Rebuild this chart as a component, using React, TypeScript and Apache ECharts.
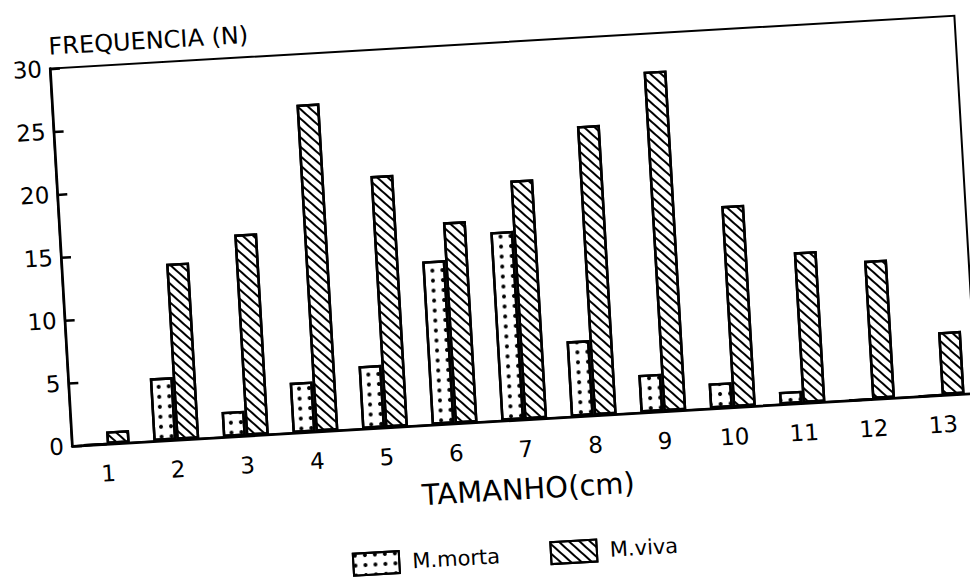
import React, { useEffect, useRef } from 'react';
import * as echarts from 'echarts';

const categories = ['1', '2', '3', '4', '5', '6', '7', '8', '9', '10', '11', '12', '13'];
const mortaValues = [0, 5, 2, 4, 5, 13, 15, 6, 3, 2, 1, 0, 0];
const vivaValues = [1, 14, 16, 26, 20, 16, 19, 23, 27, 16, 12, 11, 5];
const seriesNames = ['M.morta', 'M.viva'];
const yAxisName = 'FREQUENCIA (N)';
const xAxisName = 'TAMANHO(cm)';

const FONT = 'DejaVu Sans';

export default function App() {
  const ref = useRef<HTMLDivElement>(null);
  useEffect(() => {
    if (!ref.current) return;
    const chart = echarts.init(ref.current, null, { renderer: 'svg' });
    chart.setOption({
      animation: false,
      backgroundColor: '#fff',
      textStyle: { fontFamily: FONT, color: '#000' },
      grid: {
        left: 72,
        top: 68,
        width: 906,
        height: 378,
        show: true,
        borderColor: '#000',
        borderWidth: 2,
        backgroundColor: 'transparent',
      },
      legend: {
        data: seriesNames,
        left: 340,
        top: 564,
        icon: 'rect',
        itemWidth: 46,
        itemHeight: 22,
        itemGap: 50,
        itemStyle: { borderColor: '#000', borderWidth: 2 },
        textStyle: { fontSize: 21, color: '#000', fontFamily: FONT, padding: [0, 0, 0, 8] },
      },
      xAxis: {
        type: 'category',
        data: categories,
        name: xAxisName,
        nameLocation: 'middle',
        nameGap: 55,
        nameTextStyle: { fontSize: 29, color: '#000', fontFamily: FONT },
        axisLine: { lineStyle: { color: '#000', width: 2.5 } },
        axisTick: { show: false },
        axisLabel: { fontSize: 23, color: '#000', margin: 18, fontFamily: FONT },
      },
      yAxis: {
        type: 'value',
        min: 0,
        max: 30,
        interval: 5,
        name: yAxisName,
        nameLocation: 'end',
        nameGap: 10,
        nameTextStyle: { fontSize: 24, color: '#000', align: 'left', verticalAlign: 'bottom', fontFamily: FONT },
        axisLine: { show: true, lineStyle: { color: '#000', width: 2.5 } },
        axisTick: { show: true, inside: true, length: 10, lineStyle: { color: '#000', width: 2.5 } },
        axisLabel: { fontSize: 23, color: '#000', margin: 8, fontFamily: FONT },
        splitLine: { show: false },
      },
      series: [
        {
          name: seriesNames[0],
          type: 'bar',
          data: mortaValues,
          barWidth: 23,
          barGap: '0%',
          itemStyle: {
            color: '#fff',
            borderColor: '#000',
            borderWidth: 2.5,
            decal: {
              symbol: 'circle',
              symbolSize: 1,
              color: '#000',
              dashArrayX: [4, 6],
              dashArrayY: [4, 6],
            },
          },
        },
        {
          name: seriesNames[1],
          type: 'bar',
          data: vivaValues,
          barWidth: 23,
          barGap: '0%',
          itemStyle: {
            color: '#fff',
            borderColor: '#000',
            borderWidth: 2.5,
            decal: {
              symbol: 'rect',
              symbolSize: 1,
              color: '#000',
              dashArrayX: [1, 0],
              dashArrayY: [2, 5],
              rotation: Math.PI / 4,
            },
          },
        },
      ],
    });
    return () => chart.dispose();
  }, []);
  return (
    <div
      style={{
        position: 'absolute',
        left: 0,
        top: 0,
        width: 970,
        height: 579,
        overflow: 'hidden',
        background: '#fff',
      }}
    >
      <div
        ref={ref}
        style={{
          position: 'absolute',
          left: 0,
          top: 0,
          width: 1000,
          height: 620,
          transform: 'rotate(-3.35deg)',
          transformOrigin: '72px 446px',
        }}
      />
    </div>
  );
}
